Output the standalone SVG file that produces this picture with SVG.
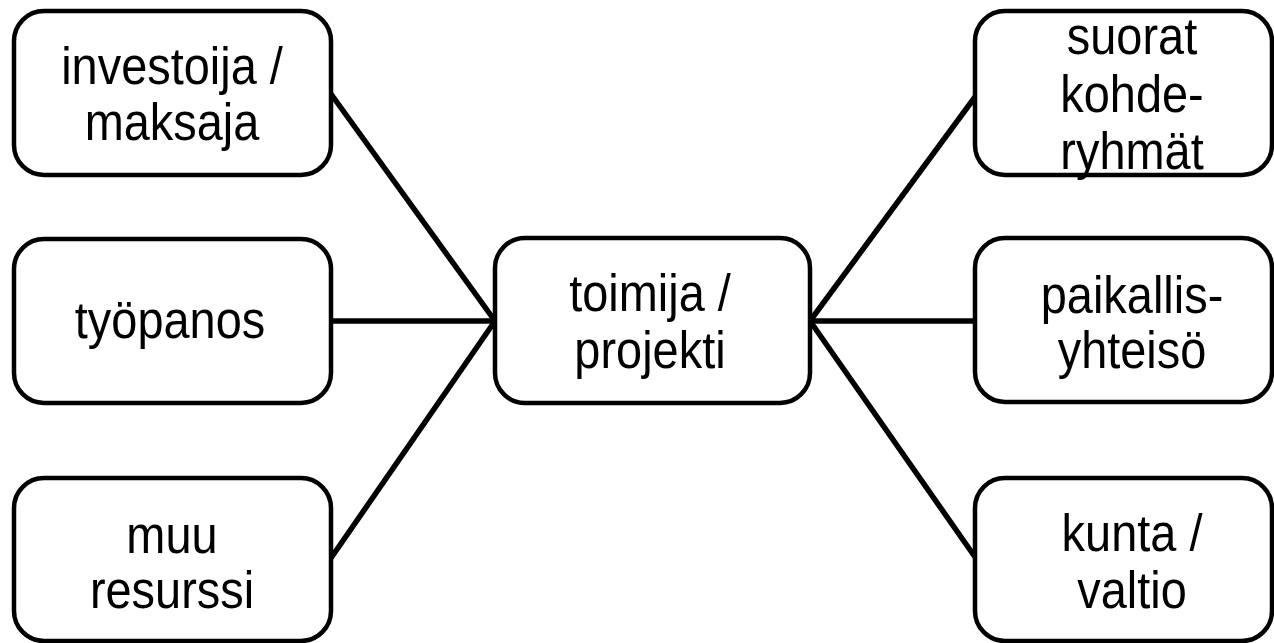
<svg xmlns="http://www.w3.org/2000/svg" width="1274" height="643" viewBox="0 0 1274 643">
<style>
.box{fill:#fff;stroke:#000;stroke-width:4.5}
.t{font-family:"Liberation Sans",Arial,sans-serif;font-size:51px;fill:#000;text-anchor:middle}
.c{stroke:#000;stroke-width:5.5;fill:none}
</style>
<rect width="1274" height="643" fill="#fff"/>
<g id="connectors">
<line class="c" x1="495" y1="321" x2="331" y2="94"/>
<line class="c" x1="495" y1="321" x2="331" y2="321"/>
<line class="c" x1="495" y1="321" x2="331" y2="558"/>
<line class="c" x1="810" y1="321" x2="975" y2="97"/>
<line class="c" x1="810" y1="321" x2="975" y2="321"/>
<line class="c" x1="810" y1="321" x2="975" y2="557"/>
</g>
<g id="n1"><rect class="box" x="14" y="11" width="317" height="164" rx="30"/><text class="t" transform="translate(172 84) scale(0.92 1)">investoija /</text><text class="t" transform="translate(172 140) scale(0.92 1)">maksaja</text></g>
<g id="n2"><rect class="box" x="14" y="239" width="317" height="164" rx="30"/><text class="t" transform="translate(170 338) scale(0.92 1)">työpanos</text></g>
<g id="n3"><rect class="box" x="14" y="478" width="317" height="163" rx="30"/><text class="t" transform="translate(172 553) scale(0.92 1)">muu</text><text class="t" transform="translate(172 608) scale(0.92 1)">resurssi</text></g>
<g id="n4"><rect class="box" x="495" y="238" width="315" height="165" rx="30"/><text class="t" transform="translate(650 311) scale(0.92 1)">toimija /</text><text class="t" transform="translate(650 368) scale(0.92 1)">projekti</text></g>
<g id="n5"><rect class="box" x="975" y="11" width="297" height="164" rx="30"/><text class="t" transform="translate(1132 54) scale(0.92 1)">suorat</text><text class="t" transform="translate(1132 112) scale(0.92 1)">kohde-</text><text class="t" transform="translate(1132 169) scale(0.92 1)">ryhmät</text></g>
<g id="n6"><rect class="box" x="975" y="238" width="297" height="164" rx="30"/><text class="t" transform="translate(1132 313) scale(0.92 1)">paikallis-</text><text class="t" transform="translate(1132 368) scale(0.92 1)">yhteisö</text></g>
<g id="n7"><rect class="box" x="975" y="478" width="297" height="163" rx="30"/><text class="t" transform="translate(1132 551) scale(0.92 1)">kunta /</text><text class="t" transform="translate(1132 608) scale(0.92 1)">valtio</text></g>
</svg>
